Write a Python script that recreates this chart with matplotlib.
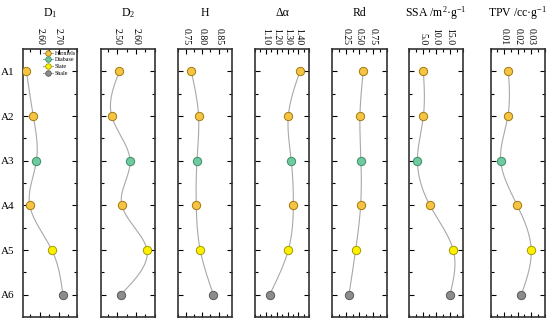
import numpy as np
import matplotlib
matplotlib.use("Agg")
import matplotlib.pyplot as plt
from matplotlib.lines import Line2D
from matplotlib.ticker import AutoMinorLocator

plt.rcParams['font.family'] = ['Liberation Serif', 'DejaVu Serif']
plt.rcParams['mathtext.default'] = 'regular'

samples = ["A1", "A2", "A3", "A4", "A5", "A6"]
rock = ["Hornfels", "Hornfels", "Diabase", "Hornfels", "Slate", "Shale"]

d1 = [2.528, 2.565, 2.582, 2.546, 2.664, 2.723]
d2 = [2.511, 2.470, 2.568, 2.524, 2.658, 2.518]
h = [0.767, 0.789, 0.784, 0.782, 0.794, 0.834]
dalpha = [1.414, 1.307, 1.334, 1.353, 1.307, 1.135]
rd = [0.570, 0.509, 0.528, 0.522, 0.430, 0.307]
ssa = [5.3, 5.3, 3.1, 7.7, 16.3, 15.1]
tpv = [0.0132, 0.0128, 0.0075, 0.0197, 0.0300, 0.0227]

titles = [r"D$_{1}$", r"D$_{2}$", "H", "Δα", "Rd",
          r"SSA /m$^{2}$·g$^{-1}$", r"TPV /cc·g$^{-1}$"]
series = [d1, d2, h, dalpha, rd, ssa, tpv]
xlims = [(2.51, 2.80), (2.41, 2.70), (0.725, 0.89), (1.0, 1.5),
         (0.0, 1.0), (0.0, 20.0), (0.0, 0.04)]
xticks = [[2.60, 2.70], [2.50, 2.60], [0.75, 0.80, 0.85],
          [1.10, 1.20, 1.30, 1.40], [0.25, 0.50, 0.75],
          [5.0, 10.0, 15.0], [0.01, 0.02, 0.03]]
fmts = ["%.2f", "%.2f", "%.2f", "%.2f", "%.2f", "%.1f", "%.2f"]

face = {"Hornfels": "#F6C343", "Diabase": "#6FCB9F",
        "Slate": "#FFF000", "Shale": "#8C8C8C"}
edge = {"Hornfels": "#A07A10", "Diabase": "#3C8C68",
        "Slate": "#A09A00", "Shale": "#5A5A5A"}


def natural_spline(t, v, tt):
    # natural cubic spline of v(t), drawn as the smooth connector
    t = np.asarray(t, float)
    v = np.asarray(v, float)
    n = len(t)
    hh = np.diff(t)
    A = np.zeros((n, n))
    b = np.zeros(n)
    A[0, 0] = A[-1, -1] = 1
    for i in range(1, n - 1):
        A[i, i - 1] = hh[i - 1]
        A[i, i] = 2 * (hh[i - 1] + hh[i])
        A[i, i + 1] = hh[i]
        b[i] = 3 * ((v[i + 1] - v[i]) / hh[i] - (v[i] - v[i - 1]) / hh[i - 1])
    c = np.linalg.solve(A, b)
    out = np.empty_like(tt)
    for k, x in enumerate(tt):
        i = min(max(np.searchsorted(t, x) - 1, 0), n - 2)
        dx = x - t[i]
        bi = (v[i + 1] - v[i]) / hh[i] - hh[i] * (2 * c[i] + c[i + 1]) / 3
        di = (c[i + 1] - c[i]) / (3 * hh[i])
        out[k] = v[i] + bi * dx + c[i] * dx ** 2 + di * dx ** 3
    return out


fig = plt.figure(figsize=(5.5, 3.24), dpi=100)
W, H = 550.0, 324.0
lefts = [23, 100.5, 177.5, 255, 332.3, 409, 490.5]
aw = 54.3
top, bot = 49, 317
ypos = np.arange(1, len(samples) + 1)
tt = np.linspace(1, len(samples), 200)

for k in range(len(series)):
    ax = fig.add_axes([lefts[k] / W, 1 - bot / H, aw / W, (bot - top) / H])
    vals = series[k]
    ax.plot(natural_spline(ypos, vals, tt), tt, color="#A8A8A8", lw=0.8, zorder=1)
    for y, v, r in zip(ypos, vals, rock):
        ax.plot(v, y, "o", ms=6, mfc=face[r], mec=edge[r], mew=0.7, zorder=3)
    ax.set_ylim(6.5, 0.5)
    ax.set_xlim(*xlims[k])
    ax.set_yticks(ypos)
    ax.set_yticks(np.arange(1.5, 6.5, 1), minor=True)
    ax.set_xticks(xticks[k])
    ax.xaxis.set_minor_locator(AutoMinorLocator(2))
    ax.set_xticklabels([fmts[k] % x for x in xticks[k]], rotation=270)
    ax.xaxis.tick_top()
    ax.tick_params(which="both", direction="in", top=True, bottom=True,
                   left=True, right=True, labelsize=7, width=0.8)
    ax.tick_params(which="major", length=3.5, pad=3)
    ax.tick_params(which="minor", length=2)
    ax.tick_params(axis="x", labelbottom=False, labeltop=True)
    if k == 0:
        ax.set_yticklabels(samples, fontsize=8)
        ax.tick_params(axis="y", pad=6)
    else:
        ax.set_yticklabels([])
    for s in ax.spines.values():
        s.set_linewidth(1.2)
        s.set_color("#333333")
    fig.text((lefts[k] + aw / 2) / W, 1 - 13 / H, titles[k], ha="center",
             va="center", fontsize=8.5)
    if k == 0:
        handles = [Line2D([], [], color="#A8A8A8", lw=0.8, marker="o", ms=4,
                          mfc=face[r], mec=edge[r], mew=0.6)
                   for r in ["Hornfels", "Diabase", "Slate", "Shale"]]
        ax.legend(handles, ["Hornfels", "Diabase", "Slate", "Shale"],
                  loc="upper right", fontsize=4.3, frameon=False,
                  handlelength=1.6, handletextpad=0.3, labelspacing=0.25,
                  borderpad=0.2, borderaxespad=0.05)

fig.savefig("out.png", dpi=100)
